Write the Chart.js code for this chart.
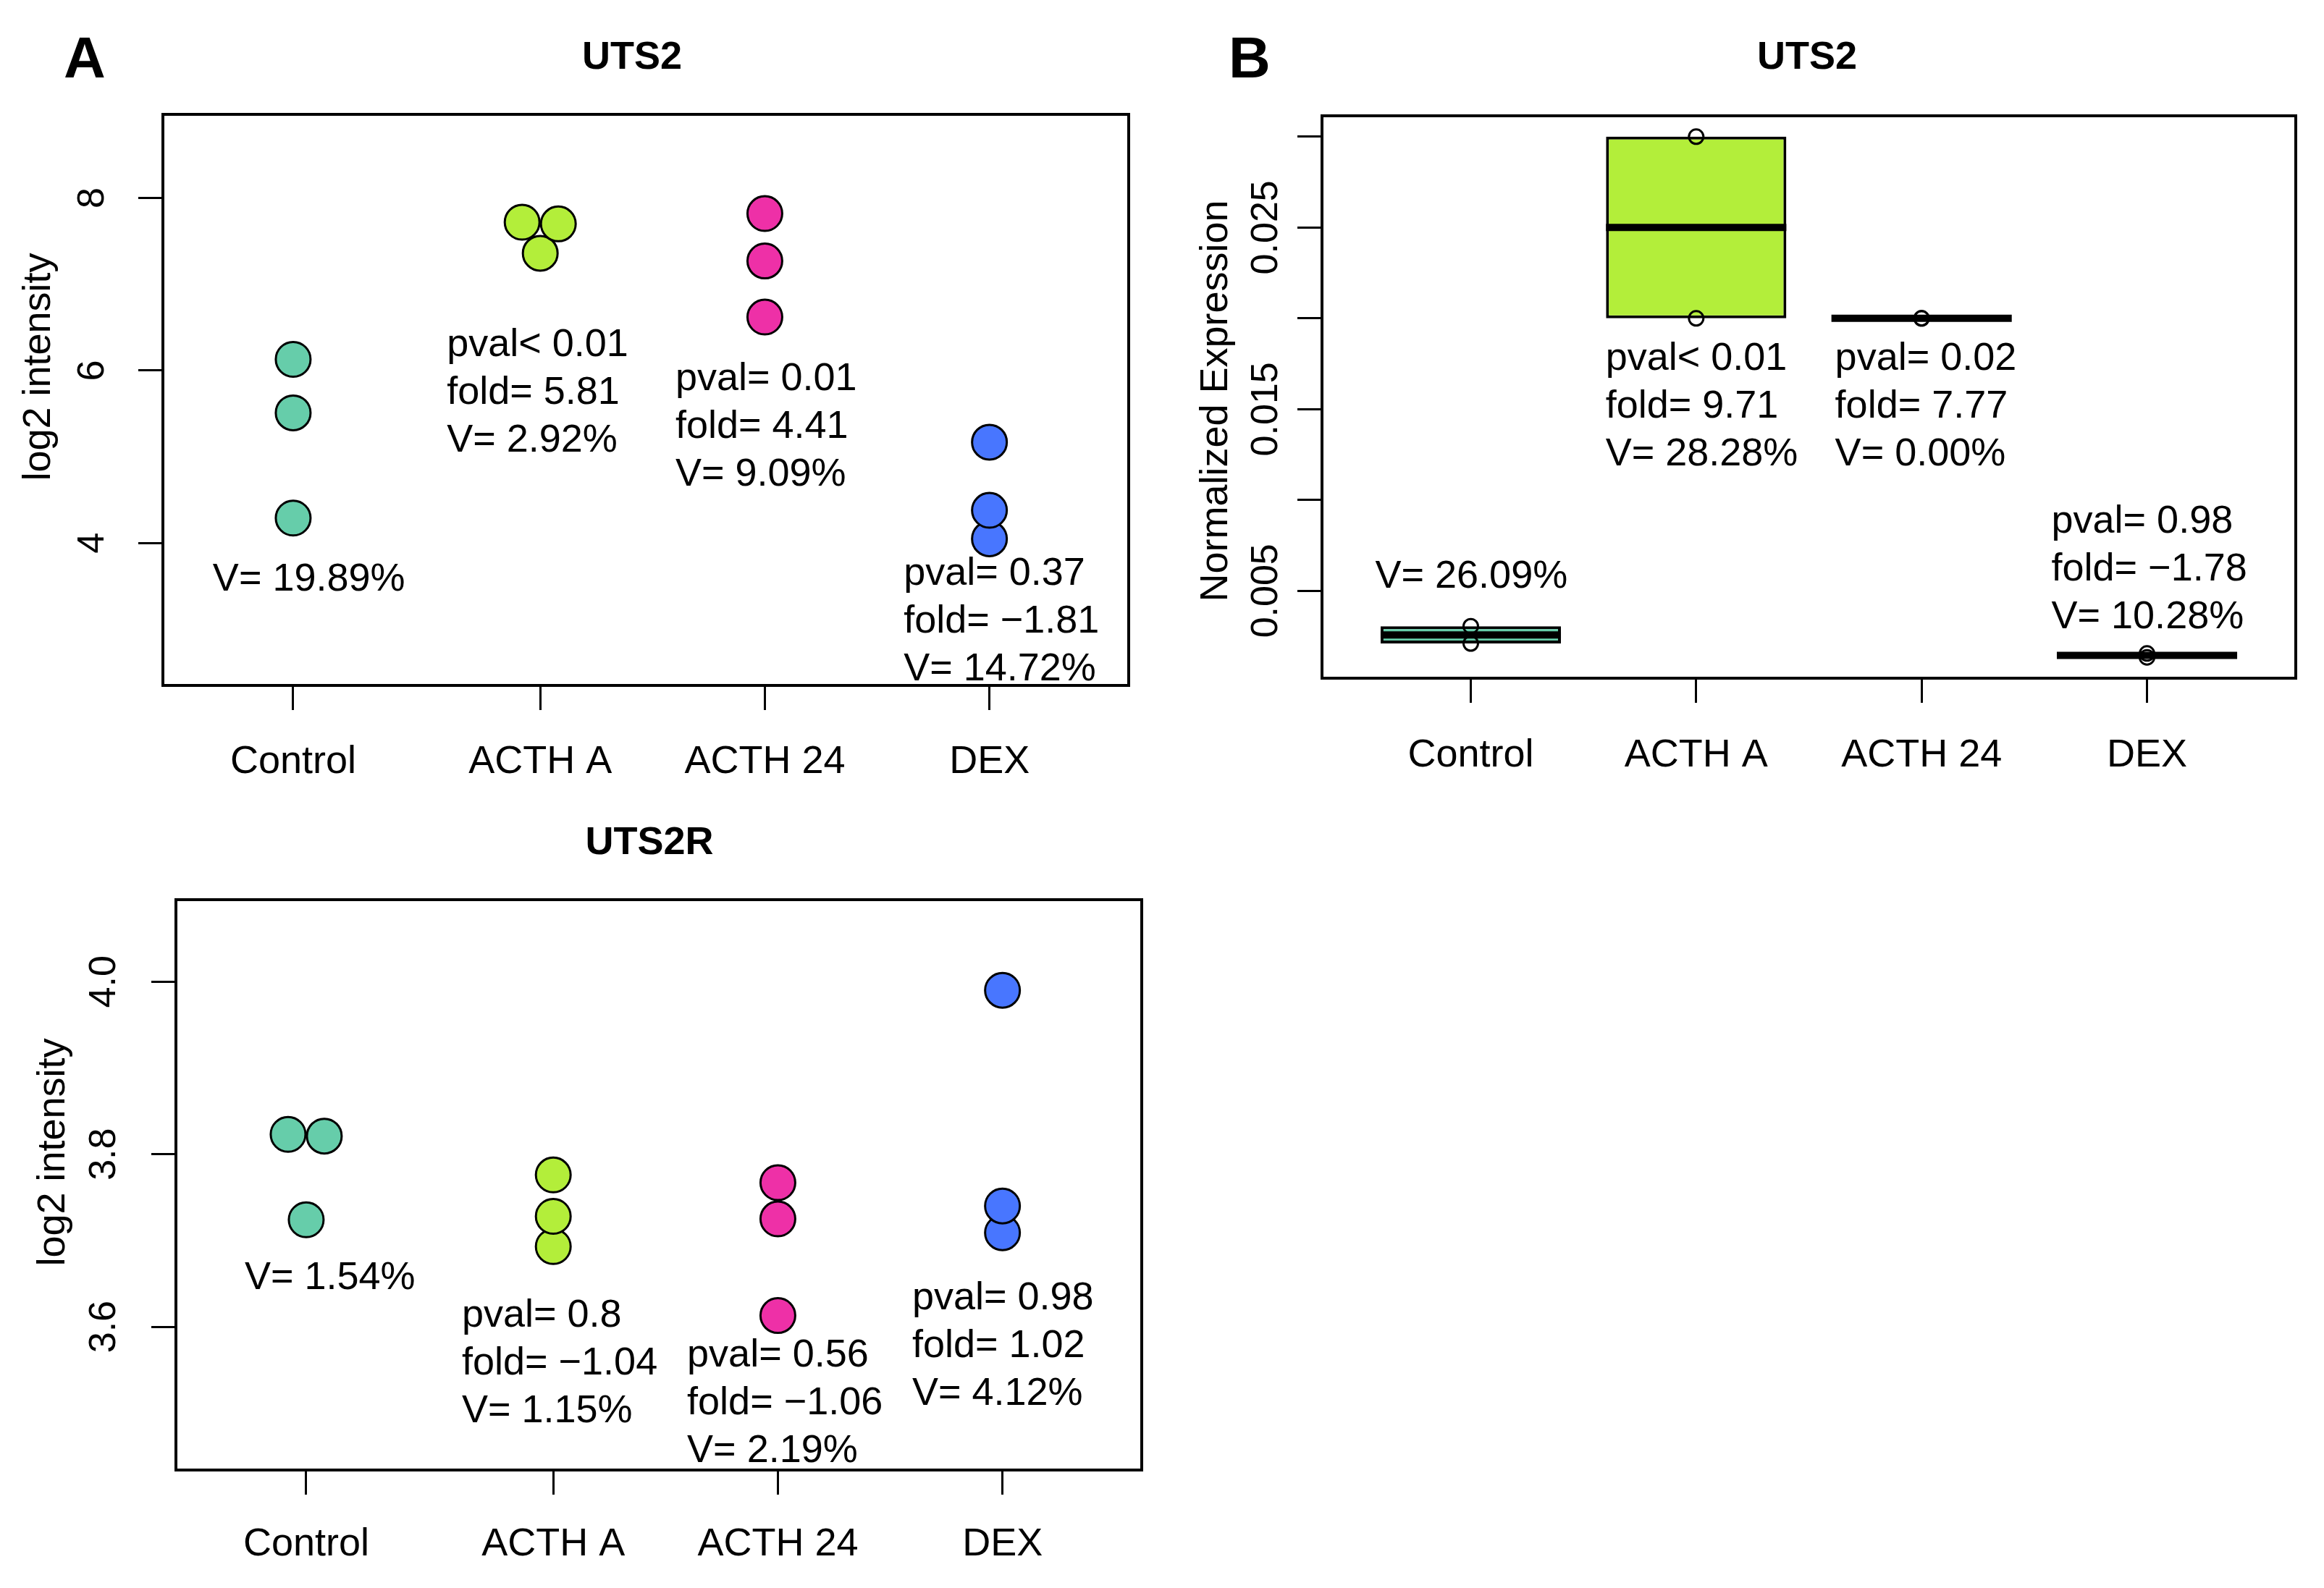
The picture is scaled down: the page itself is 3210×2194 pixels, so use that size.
<!DOCTYPE html>
<html>
<head>
<meta charset="utf-8">
<script src="https://cdn.jsdelivr.net/npm/chart.js@4.4.0/dist/chart.umd.min.js"></script>
<style>
  html, body { margin: 0; padding: 0; background: #fff; }
  #page { position: relative; width: 3210px; height: 2194px; overflow: hidden; background: #fff; }
  canvas { position: absolute; }
</style>
</head>
<body>
<div id="page">
  <canvas id="uts2A" width="1620" height="1100" style="left:0;top:0"></canvas>
  <canvas id="uts2B" width="1590" height="1100" style="left:1620px;top:0"></canvas>
  <canvas id="uts2rA" width="1620" height="1094" style="left:0;top:1100px"></canvas>
</div>
<script>
// groups and colours
const groups = ['Control', 'ACTH A', 'ACTH 24', 'DEX'];
const groupColors = ['#66CDAA', '#B3EE3A', '#EE30A7', '#4876FF'];

// Panel A - UTS2, log2 intensity
const uts2Control = [6.13, 5.51, 4.29];
const uts2ActhA = [7.36, 7.72, 7.70];
const uts2Acth24 = [7.82, 7.27, 6.62];
const uts2Dex = [5.17, 4.05, 4.38];
const uts2Ticks = [4, 6, 8];

// Panel A - UTS2R, log2 intensity
const uts2rControl = [3.724, 3.823, 3.821];
const uts2rActhA = [3.776, 3.693, 3.728];
const uts2rActh24 = [3.767, 3.725, 3.613];
const uts2rDex = [3.990, 3.709, 3.740];
const uts2rTicks = [3.6, 3.8, 4.0];

// Panel B - UTS2, normalized expression
const qpcrControl = [0.00210, 0.00305];
const qpcrActhA = [0.020, 0.030];
const qpcrActh24 = [0.020, 0.020];
const qpcrDex = [0.00134, 0.00155];
const qpcrTicks = [0.005, 0.010, 0.015, 0.020, 0.025, 0.030];
const qpcrTickLabels = ['0.005', '', '0.015', '', '0.025', ''];

// x positions of the groups
const stripPos = [0.9, 2, 3, 4];
const boxPos = [1, 2, 3, 4];

// stats printed next to each group
const uts2Notes = [
  ['V= 19.89%'],
  ['pval< 0.01', 'fold= 5.81', 'V= 2.92%'],
  ['pval= 0.01', 'fold= 4.41', 'V= 9.09%'],
  ['pval= 0.37', 'fold= \u22121.81', 'V= 14.72%']
];
const uts2rNotes = [
  ['V= 1.54%'],
  ['pval= 0.8', 'fold= \u22121.04', 'V= 1.15%'],
  ['pval= 0.56', 'fold= \u22121.06', 'V= 2.19%'],
  ['pval= 0.98', 'fold= 1.02', 'V= 4.12%']
];
const qpcrNotes = [
  ['V= 26.09%'],
  ['pval< 0.01', 'fold= 9.71', 'V= 28.28%'],
  ['pval= 0.02', 'fold= 7.77', 'V= 0.00%'],
  ['pval= 0.98', 'fold= \u22121.78', 'V= 10.28%']
];

// where the note blocks sit (left edge, first baseline) in axis units
const uts2NoteAt = [[0.542, 3.45], [1.584, 6.17], [2.602, 5.77], [3.618, 3.52]];
const uts2rNoteAt = [[0.626, 3.644], [1.593, 3.600], [2.596, 3.554], [3.598, 3.620]];
const qpcrNoteAt = [[0.576, 0.00516], [1.598, 0.01716], [2.616, 0.01716], [3.576, 0.00818]];

const FONT = '"Liberation Sans", Arial, Helvetica, sans-serif';
Chart.defaults.font.family = FONT;
Chart.defaults.color = '#000';

const median = arr => {
  const s = [...arr].sort((a, b) => a - b);
  const m = Math.floor(s.length / 2);
  return s.length % 2 ? s[m] : (s[m - 1] + s[m]) / 2;
};

// plot frame
const frame = {
  id: 'frame',
  afterDraw(chart) {
    const {ctx, chartArea: a} = chart;
    ctx.save();
    ctx.strokeStyle = '#000';
    ctx.lineWidth = 4;
    ctx.strokeRect(a.left, a.top, a.right - a.left, a.bottom - a.top);
    ctx.restore();
  }
};

// spread points with (nearly) equal values side by side
function swarm(diameter) {
  return {
    id: 'swarm',
    afterDatasetsUpdate(chart) {
      chart.data.datasets.forEach((ds, i) => {
        const pts = chart.getDatasetMeta(i).data.slice().sort((a, b) => a.y - b.y);
        let k = 0;
        while (k < pts.length) {
          let j = k + 1;
          while (j < pts.length && pts[j].y - pts[k].y < diameter / 2) j++;
          const n = j - k;
          for (let m = k; m < j; m++) pts[m].x += (m - k - (n - 1) / 2) * diameter;
          k = j;
        }
      });
    }
  };
}

// text blocks anchored in axis units
function notes(lines, anchors) {
  return {
    id: 'notes',
    afterDatasetsDraw(chart) {
      const {ctx, scales: {x, y}} = chart;
      ctx.save();
      ctx.font = '54px ' + FONT;
      ctx.fillStyle = '#000';
      ctx.textAlign = 'left';
      ctx.textBaseline = 'alphabetic';
      lines.forEach((block, i) => {
        const px = x.getPixelForValue(anchors[i][0]);
        const py = y.getPixelForValue(anchors[i][1]);
        block.forEach((line, k) => ctx.fillText(line, px, py + k * 66));
      });
      ctx.restore();
    }
  };
}

// titles, panel letters, axis titles
function labels(items) {
  return {
    id: 'labels',
    afterDraw(chart) {
      const ctx = chart.ctx;
      items.forEach(t => {
        ctx.save();
        ctx.font = t.font;
        ctx.fillStyle = '#000';
        ctx.textAlign = t.align || 'center';
        ctx.textBaseline = t.baseline || 'alphabetic';
        ctx.translate(t.x, t.y);
        if (t.rotate) ctx.rotate(t.rotate);
        ctx.fillText(t.text, 0, 0);
        ctx.restore();
      });
    }
  };
}

const tickGrid = {display: true, drawOnChartArea: false, drawTicks: true, tickLength: 34, tickWidth: 3, tickColor: '#000'};

function xAxis(min, max, pos, height, pad) {
  return {
    type: 'linear', min, max, offset: false,
    afterBuildTicks: s => { s.ticks = pos.map(v => ({value: v})); },
    afterFit: s => { s.height = height; },
    grid: {...tickGrid, offset: false},
    border: {display: false},
    ticks: {autoSkip: false, maxRotation: 0, padding: pad, font: {size: 54, lineHeight: 1.2},
            callback: (v, i) => groups[i]}
  };
}

function yAxis(min, max, ticks, fmt, width, pad) {
  return {
    type: 'linear', min, max,
    afterBuildTicks: s => { s.ticks = ticks.map(v => ({value: v})); },
    afterFit: s => { s.width = width; },
    grid: tickGrid,
    border: {display: false},
    ticks: {autoSkip: false, minRotation: 90, maxRotation: 90, crossAlign: 'center', padding: pad,
            font: {size: 52, lineHeight: 1.2}, callback: fmt}
  };
}

function stripChart(id, series, xa, ya, pad, extra) {
  return new Chart(document.getElementById(id), {
    type: 'scatter',
    data: {
      datasets: series.map((vals, i) => ({
        data: vals.map(v => ({x: stripPos[i], y: v})),
        backgroundColor: groupColors[i],
        borderColor: '#000',
        borderWidth: 3,
        pointRadius: 24,
        pointHoverRadius: 24
      }))
    },
    options: {
      responsive: false,
      devicePixelRatio: 1,
      animation: false,
      events: [],
      layout: {padding: pad},
      plugins: {legend: {display: false}, tooltip: {enabled: false}},
      scales: {x: xa, y: ya}
    },
    plugins: [frame, swarm(50)].concat(extra)
  });
}

// Panel A top: UTS2
stripChart('uts2A',
  [uts2Control, uts2ActhA, uts2Acth24, uts2Dex],
  xAxis(0.32, 4.62, stripPos, 153, 40),
  yAxis(2.35, 8.97, uts2Ticks, v => String(v), 225, 48),
  {top: 158, right: 61, bottom: 0, left: 0},
  [notes(uts2Notes, uts2NoteAt), labels([
    {text: 'A', x: 88, y: 107, font: 'bold 80px ' + FONT, align: 'left'},
    {text: 'UTS2', x: 873, y: 95, font: 'bold 54px ' + FONT},
    {text: 'log2 intensity', x: 54, y: 507, font: '54px ' + FONT, baseline: 'middle', rotate: -Math.PI / 2}
  ])]);

// Panel A bottom: UTS2R
stripChart('uts2rA',
  [uts2rControl, uts2rActhA, uts2rActh24, uts2rDex],
  xAxis(0.32, 4.62, stripPos, 163, 37),
  yAxis(3.434, 4.095, uts2rTicks, v => v.toFixed(1), 243, 28),
  {top: 143, right: 43, bottom: 0, left: 0},
  [notes(uts2rNotes, uts2rNoteAt), labels([
    {text: 'UTS2R', x: 897, y: 80, font: 'bold 54px ' + FONT},
    {text: 'log2 intensity', x: 74, y: 492, font: '54px ' + FONT, baseline: 'middle', rotate: -Math.PI / 2}
  ])]);

// Panel B: boxplots of normalized expression
const qpcrSeries = [qpcrControl, qpcrActhA, qpcrActh24, qpcrDex];

const medians = {
  id: 'medians',
  afterDatasetDraw(chart, args) {
    if (args.index !== 0) return;
    const {ctx, scales: {x, y}} = chart;
    ctx.save();
    ctx.strokeStyle = '#000';
    ctx.lineWidth = 10;
    ctx.lineCap = 'butt';
    qpcrSeries.forEach((vals, i) => {
      const py = y.getPixelForValue(median(vals));
      ctx.beginPath();
      ctx.moveTo(x.getPixelForValue(boxPos[i] - 0.4), py);
      ctx.lineTo(x.getPixelForValue(boxPos[i] + 0.4), py);
      ctx.stroke();
    });
    ctx.restore();
  }
};

new Chart(document.getElementById('uts2B'), {
  type: 'bar',
  data: {
    datasets: [
      {
        type: 'bar',
        order: 2,
        data: qpcrSeries.map((vals, i) => ({x: boxPos[i], y: [Math.min(...vals), Math.max(...vals)]})),
        backgroundColor: groupColors,
        borderColor: '#000',
        borderWidth: 4,
        borderSkipped: false,
        barPercentage: 0.8,
        categoryPercentage: 1.0
      },
      {
        type: 'scatter',
        order: 1,
        data: qpcrSeries.flatMap((vals, i) => vals.map(v => ({x: boxPos[i], y: v}))),
        backgroundColor: 'rgba(0,0,0,0)',
        borderColor: '#000',
        borderWidth: 3,
        pointRadius: 10,
        pointHoverRadius: 10
      }
    ]
  },
  options: {
    responsive: false,
    devicePixelRatio: 1,
    animation: false,
    events: [],
    layout: {padding: {top: 160, right: 39, bottom: 0, left: 0}},
    plugins: {legend: {display: false}, tooltip: {enabled: false}},
    scales: {
      x: xAxis(0.34, 4.66, boxPos, 163, 41),
      y: yAxis(0.00019, 0.03115, qpcrTicks, (v, i) => qpcrTickLabels[i], 206, -23)
    }
  },
  plugins: [frame, medians, notes(qpcrNotes, qpcrNoteAt), labels([
    {text: 'B', x: 77, y: 107, font: 'bold 80px ' + FONT, align: 'left'},
    {text: 'UTS2', x: 876, y: 95, font: 'bold 54px ' + FONT},
    {text: 'Normalized Expression', x: 60, y: 554, font: '54px ' + FONT, baseline: 'middle', rotate: -Math.PI / 2}
  ])]
});
</script>
</body>
</html>
